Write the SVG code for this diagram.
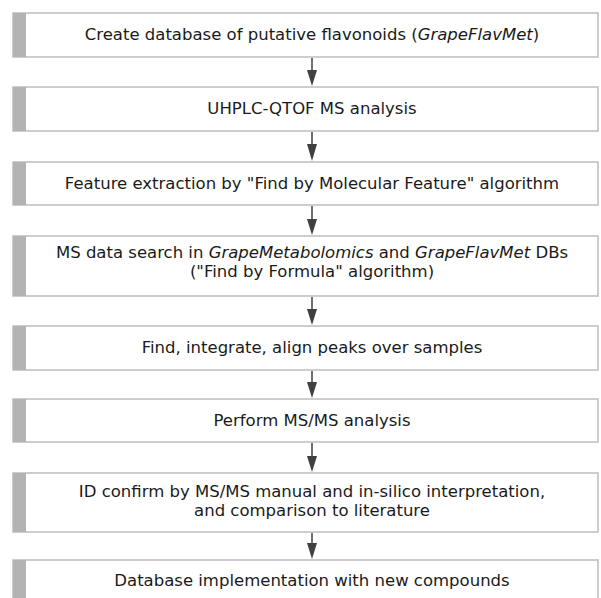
<svg xmlns="http://www.w3.org/2000/svg" width="601" height="598" viewBox="0 0 601 598">
<defs>
<style>
.box{fill:#fff;stroke:#bdbdbd;stroke-width:1.5}
.bar{fill:#b3b3b3}
.t{font-family:"DejaVu Sans",Verdana,sans-serif;font-size:16.5px;fill:#1a1a1a;text-anchor:middle}
.c{stroke:#404040;stroke-width:1.5;fill:none}
.h{fill:#404040}
</style>
</defs>
<rect width="601" height="598" fill="#fff"/>
<g id="connectors">
<line class="c" x1="312" y1="58" x2="312" y2="71"/><path class="h" d="M307,70 L317,70 L312,86 Z"/>
<line class="c" x1="312" y1="132" x2="312" y2="145"/><path class="h" d="M307,144 L317,144 L312,161 Z"/>
<line class="c" x1="312" y1="206" x2="312" y2="219"/><path class="h" d="M307,219 L317,219 L312,235 Z"/>
<line class="c" x1="312" y1="297" x2="312" y2="310"/><path class="h" d="M307,309 L317,309 L312,325 Z"/>
<line class="c" x1="312" y1="371" x2="312" y2="383"/><path class="h" d="M307,382 L317,382 L312,398 Z"/>
<line class="c" x1="312" y1="443" x2="312" y2="456"/><path class="h" d="M307,456 L317,456 L312,472 Z"/>
<line class="c" x1="312" y1="533" x2="312" y2="543"/><path class="h" d="M307,543 L317,543 L312,559 Z"/>
</g>
<g id="n1"><rect class="box" x="13" y="13" width="585" height="44"/><rect class="bar" x="13" y="13" width="13" height="44"/>
<text class="t" x="312" y="40">Create database of putative flavonoids (<tspan font-style="italic">GrapeFlavMet</tspan>)</text></g>
<g id="n2"><rect class="box" x="13" y="87" width="585" height="44"/><rect class="bar" x="13" y="87" width="13" height="44"/>
<text class="t" x="312" y="114">UHPLC-QTOF MS analysis</text></g>
<g id="n3"><rect class="box" x="13" y="162" width="585" height="43"/><rect class="bar" x="13" y="162" width="13" height="43"/>
<text class="t" x="312" y="189">Feature extraction by "Find by Molecular Feature" algorithm</text></g>
<g id="n4"><rect class="box" x="13" y="236" width="585" height="60"/><rect class="bar" x="13" y="236" width="13" height="60"/>
<text class="t" x="312" y="258">MS data search in <tspan font-style="italic">GrapeMetabolomics</tspan> and <tspan font-style="italic">GrapeFlavMet</tspan> DBs</text>
<text class="t" x="312" y="277">("Find by Formula" algorithm)</text></g>
<g id="n5"><rect class="box" x="13" y="326" width="585" height="44"/><rect class="bar" x="13" y="326" width="13" height="44"/>
<text class="t" x="312" y="353">Find, integrate, align peaks over samples</text></g>
<g id="n6"><rect class="box" x="13" y="399" width="585" height="43"/><rect class="bar" x="13" y="399" width="13" height="43"/>
<text class="t" x="312" y="426">Perform MS/MS analysis</text></g>
<g id="n7"><rect class="box" x="13" y="473" width="585" height="59"/><rect class="bar" x="13" y="473" width="13" height="59"/>
<text class="t" x="312" y="497">ID confirm by MS/MS manual and in-silico interpretation,</text>
<text class="t" x="312" y="516">and comparison to literature</text></g>
<g id="n8"><rect class="box" x="13" y="560" width="585" height="50"/><rect class="bar" x="13" y="560" width="13" height="50"/>
<text class="t" x="312" y="586">Database implementation with new compounds</text></g>
</svg>
